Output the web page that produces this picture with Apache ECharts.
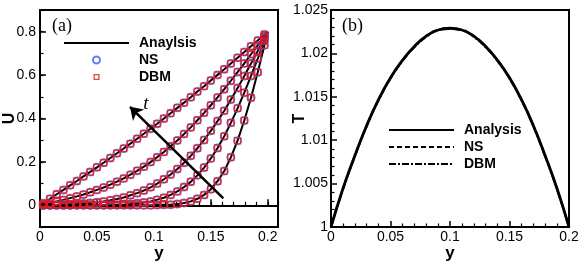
<!DOCTYPE html>
<html><head><meta charset="utf-8">
<script src="https://cdn.jsdelivr.net/npm/echarts@6/dist/echarts.min.js"></script>
<style>html,body{margin:0;padding:0;background:#fff}#c{width:581px;height:263px}</style>
</head><body><div id="c"></div>
<script>
// ---- panel (a): velocity profiles U(y) at five times ----
const yPos = [0.0029,0.0088,0.0147,0.0206,0.0265,0.0324,0.0382,0.0441,0.05,0.0559,0.0618,0.0676,0.0735,0.0794,0.0853,0.0912,0.0971,0.1029,0.1088,0.1147,0.1206,0.1265,0.1324,0.1382,0.1441,0.15,0.1559,0.1618,0.1676,0.1735,0.1794,0.1853,0.1912,0.1971];
const u1 = [0.010,0.030,0.051,0.071,0.092,0.112,0.133,0.154,0.175,0.196,0.218,0.240,0.262,0.284,0.307,0.330,0.353,0.376,0.400,0.424,0.449,0.473,0.498,0.524,0.549,0.575,0.601,0.627,0.653,0.680,0.706,0.733,0.760,0.787];
const u2 = [0.003,0.010,0.018,0.025,0.033,0.041,0.050,0.060,0.071,0.082,0.095,0.109,0.124,0.141,0.159,0.178,0.199,0.222,0.246,0.272,0.299,0.329,0.359,0.392,0.426,0.461,0.497,0.535,0.574,0.614,0.654,0.696,0.737,0.779];
const u3 = [0.000,0.001,0.002,0.004,0.005,0.006,0.008,0.011,0.014,0.018,0.023,0.029,0.036,0.046,0.056,0.068,0.083,0.100,0.120,0.142,0.167,0.196,0.228,0.263,0.301,0.343,0.388,0.436,0.487,0.540,0.596,0.653,0.711,0.770];
const u4 = [0,0,0,0,0,0.001,0.001,0.001,0.001,0.001,0.002,0.003,0.004,0.006,0.009,0.013,0.018,0.026,0.035,0.048,0.064,0.084,0.108,0.138,0.174,0.216,0.264,0.318,0.380,0.447,0.519,0.596,0.676,0.758];
const u5 = [0,0,0,0,0,0,0,0,0,0,0,0,0,0,0,0,0,0.001,0.002,0.003,0.006,0.011,0.018,0.030,0.048,0.074,0.111,0.158,0.221,0.298,0.391,0.496,0.613,0.737];
const wallStart = [0, 0];
const wallEnd = [0.2, 0.8];
const uTicks = [0, 0.2, 0.4, 0.6, 0.8];
const yTicksA = [0, 0.05, 0.1, 0.15, 0.2];
const arrowFrom = [0.161, 0.032];
const arrowTo = [0.079, 0.454];
const tLabelAt = [0.093, 0.467];

// ---- panel (b): temperature profile T(y) ----
const yT = [0,0.01,0.02,0.03,0.04,0.05,0.06,0.07,0.08,0.09,0.1,0.11,0.12,0.13,0.14,0.15,0.16,0.17,0.18,0.19,0.2];
const tAnalysis = [1.0000,1.0044,1.0082,1.0117,1.0147,1.0172,1.0192,1.0208,1.0220,1.0227,1.0229,1.0227,1.0220,1.0208,1.0192,1.0172,1.0147,1.0117,1.0082,1.0044,1.0000];
const tNS       = [1.0000,1.0044,1.0082,1.0117,1.0147,1.0172,1.0192,1.0208,1.0220,1.0227,1.0229,1.0227,1.0220,1.0208,1.0192,1.0172,1.0147,1.0117,1.0082,1.0044,1.0000];
const tDBM      = [1.0000,1.0043,1.0081,1.0116,1.0146,1.0171,1.0191,1.0207,1.0219,1.0227,1.0228,1.0227,1.0219,1.0207,1.0191,1.0171,1.0146,1.0116,1.0081,1.0043,1.0000];

const uCurves = [u1, u2, u3, u4, u5];
const FONT = "'Liberation Sans', Arial, sans-serif";
const SERIF = "'Liberation Serif', 'Times New Roman', serif";
const BLUE = '#3f5af5', RED = '#e0161c';
const CLEAR = 'rgba(0,0,0,0)';

const pts = u => yPos.map((y, i) => [y, u[i]]);
const allPts = [].concat(...uCurves.map(pts));

const lbl = {color: '#000', fontSize: 14, fontFamily: FONT};
const nameStyle = {color: '#000', fontSize: 17, fontWeight: 'bold', fontFamily: FONT};
const axLine = {show: true, lineStyle: {color: '#000', width: 2}};

const series = [];
uCurves.forEach((u, k) => {
  const s = {
    name: 'Anaylsis', type: 'line', xAxisIndex: 0, yAxisIndex: 1,
    data: [wallStart].concat(pts(u), [wallEnd]),
    symbol: 'none', showSymbol: false, z: 2,
    lineStyle: {color: '#000', width: 2}, itemStyle: {color: '#000'}
  };
  if (k === 0) {
    s.markLine = {
      silent: true, symbol: ['none', 'arrow'], symbolSize: 12,
      label: {show: false},
      lineStyle: {color: '#000', width: 2.5, type: 'solid'},
      data: [[{coord: arrowFrom}, {coord: arrowTo}]]
    };
    s.markPoint = {
      silent: true, symbol: 'circle', symbolSize: 0,
      label: {show: true, position: 'inside', formatter: 't', color: '#000',
              fontStyle: 'italic', fontFamily: SERIF, fontSize: 19},
      data: [{coord: tLabelAt}]
    };
  }
  series.push(s);
});
series.push({
  name: 'NS', type: 'scatter', xAxisIndex: 0, yAxisIndex: 1, data: allPts,
  symbol: 'circle', symbolSize: 7.5, z: 3,
  itemStyle: {color: CLEAR, borderColor: BLUE, borderWidth: 1.5}
});
series.push({
  name: 'DBM', type: 'scatter', xAxisIndex: 0, yAxisIndex: 1, data: allPts,
  symbol: 'rect', symbolSize: 6, z: 4,
  itemStyle: {color: CLEAR, borderColor: RED, borderWidth: 1.5}
});
series.push({
  name: 'Analysis', type: 'line', xAxisIndex: 2, yAxisIndex: 2,
  data: yT.map((y, i) => [y, tAnalysis[i]]), symbol: 'none', smooth: true,
  lineStyle: {color: '#000', width: 2.8}, itemStyle: {color: '#000'}, z: 2
});
series.push({
  name: 'NS ', type: 'line', xAxisIndex: 2, yAxisIndex: 2,
  data: yT.map((y, i) => [y, tNS[i]]), symbol: 'none', smooth: true,
  lineStyle: {color: '#000', width: 2, type: [5, 3]}, itemStyle: {color: '#000'}, z: 3
});
series.push({
  name: 'DBM ', type: 'line', xAxisIndex: 2, yAxisIndex: 2,
  data: yT.map((y, i) => [y, tDBM[i]]), symbol: 'none', smooth: true,
  lineStyle: {color: '#000', width: 2, type: [7, 2, 2, 2]}, itemStyle: {color: '#000'}, z: 4
});

const legendText = {color: '#000', fontSize: 14, fontWeight: 'bold', fontFamily: FONT, padding: [0, 0, 0, 5]};
const noSym = {color: CLEAR, borderWidth: 0};
const hollowSquareIcon = 'path://M0,0M29.5,0.5h6v6h-6zM30.8,1.8v3.4h3.4v-3.4zM65,7';

const option = {
  animation: false,
  backgroundColor: '#fff',
  title: [
    {text: '(a)', left: 52, top: 17, padding: 0, textStyle: {fontFamily: SERIF, fontSize: 18, fontWeight: 'normal', color: '#000'}},
    {text: '(b)', left: 342, top: 17, padding: 0, textStyle: {fontFamily: SERIF, fontSize: 18, fontWeight: 'normal', color: '#000'}}
  ],
  legend: [
    {data: [{name: 'Anaylsis', itemStyle: noSym},
            {name: 'NS'},
            {name: 'DBM', icon: hollowSquareIcon, itemStyle: {color: RED, borderWidth: 0}}],
     orient: 'vertical', left: 63, top: 36, padding: 0,
     itemWidth: 65, itemHeight: 7, itemGap: 3, selectedMode: false, textStyle: legendText},
    {data: [{name: 'Analysis', itemStyle: noSym}, {name: 'NS ', itemStyle: noSym}, {name: 'DBM ', itemStyle: noSym}],
     orient: 'vertical', left: 388, top: 123, padding: 0,
     itemWidth: 65, itemHeight: 7, itemGap: 3, selectedMode: false, textStyle: legendText}
  ],
  grid: [
    {left: 40, top: 10, width: 238, height: 217, show: true, borderColor: '#000', borderWidth: 2,
     backgroundColor: CLEAR, containLabel: false, outerBoundsMode: 'none'},
    {left: 331, top: 10, width: 238, height: 217, show: true, borderColor: '#000', borderWidth: 2,
     backgroundColor: CLEAR, containLabel: false, outerBoundsMode: 'none'}
  ],
  xAxis: [
    {gridIndex: 0, type: 'value', position: 'bottom', min: 0, max: 0.209,
     axisLine: axLine, splitLine: {show: false},
     axisTick: {inside: true, length: 6, customValues: yTicksA, lineStyle: {color: '#000', width: 1.5}},
     axisLabel: Object.assign({margin: 3, customValues: yTicksA}, lbl),
     name: 'y', nameLocation: 'middle', nameGap: 18, nameMoveOverlap: false, nameTextStyle: nameStyle},
    {gridIndex: 0, type: 'value', position: 'bottom', offset: 0, min: 0, max: 0.209, interval: 0.01,
     axisLine: {show: false}, splitLine: {show: false}, axisLabel: {show: false},
     axisTick: {inside: true, length: 3.5, lineStyle: {color: '#000', width: 1.2}}},
    {gridIndex: 1, type: 'value', position: 'bottom', min: 0, max: 0.2, interval: 0.05,
     axisLine: axLine, splitLine: {show: false},
     axisTick: {inside: true, length: 6, lineStyle: {color: '#000', width: 1.5}},
     minorTick: {show: true, splitNumber: 5, length: 3.5, lineStyle: {color: '#000', width: 1.2}},
     axisLabel: Object.assign({margin: 3}, lbl),
     name: 'y', nameLocation: 'middle', nameGap: 18, nameMoveOverlap: false, nameTextStyle: nameStyle}
  ],
  yAxis: [
    {gridIndex: 0, type: 'value', position: 'left', offset: 0, min: -0.1, max: 0.9, interval: 0.1,
     axisLine: {show: false}, splitLine: {show: false}, axisLabel: {show: false},
     axisTick: {inside: true, length: 3.5, lineStyle: {color: '#000', width: 1.2}}},
    {gridIndex: 0, type: 'value', position: 'left', offset: 0, min: -0.1, max: 0.9,
     axisLine: axLine, splitLine: {show: false},
     axisTick: {inside: true, length: 6, customValues: uTicks, lineStyle: {color: '#000', width: 1.5}},
     axisLabel: Object.assign({margin: 4, customValues: uTicks}, lbl),
     name: 'U', nameLocation: 'middle', nameGap: 22, nameMoveOverlap: false,
     nameTextStyle: Object.assign({}, nameStyle, {fontSize: 16})},
    {gridIndex: 1, type: 'value', position: 'left', min: 1, max: 1.025, interval: 0.005,
     axisLine: axLine, splitLine: {show: false},
     axisTick: {inside: true, length: 6, lineStyle: {color: '#000', width: 1.5}},
     minorTick: {show: true, splitNumber: 5, length: 3.5, lineStyle: {color: '#000', width: 1.2}},
     axisLabel: Object.assign({margin: 3}, lbl),
     name: 'T', nameLocation: 'middle', nameGap: 23, nameMoveOverlap: false,
     nameTextStyle: Object.assign({}, nameStyle, {fontSize: 16})}
  ],
  series: series
};

const chart = echarts.init(document.getElementById('c'), null, {renderer: 'canvas'});
chart.setOption(option);
</script>
</body></html>
